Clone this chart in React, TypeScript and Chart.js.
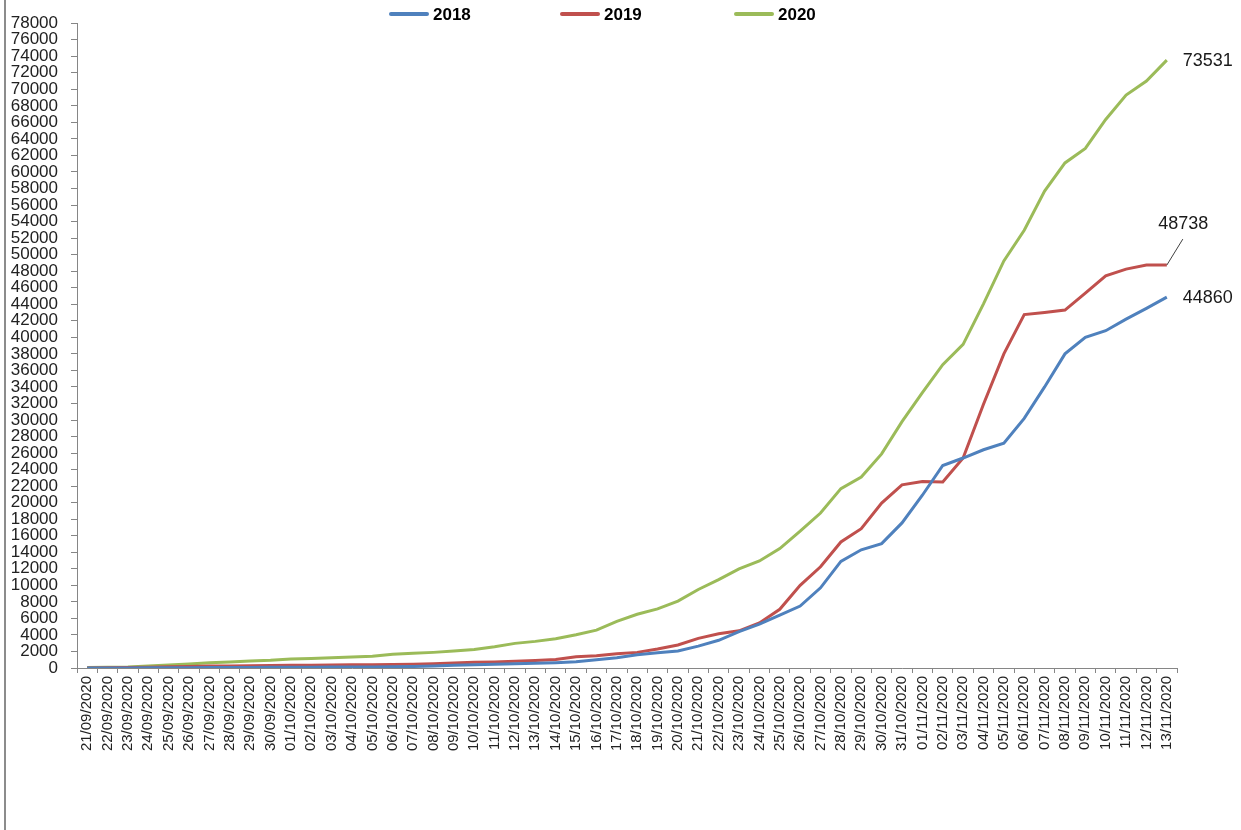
import React, { useEffect, useRef } from "react";
import { Chart, registerables } from "chart.js";

Chart.register(...registerables);

const dates = [
  "21/09/2020", "22/09/2020", "23/09/2020", "24/09/2020", "25/09/2020", "26/09/2020",
  "27/09/2020", "28/09/2020", "29/09/2020", "30/09/2020", "01/10/2020", "02/10/2020",
  "03/10/2020", "04/10/2020", "05/10/2020", "06/10/2020", "07/10/2020", "08/10/2020",
  "09/10/2020", "10/10/2020", "11/10/2020", "12/10/2020", "13/10/2020", "14/10/2020",
  "15/10/2020", "16/10/2020", "17/10/2020", "18/10/2020", "19/10/2020", "20/10/2020",
  "21/10/2020", "22/10/2020", "23/10/2020", "24/10/2020", "25/10/2020", "26/10/2020",
  "27/10/2020", "28/10/2020", "29/10/2020", "30/10/2020", "31/10/2020", "01/11/2020",
  "02/11/2020", "03/11/2020", "04/11/2020", "05/11/2020", "06/11/2020", "07/11/2020",
  "08/11/2020", "09/11/2020", "10/11/2020", "11/11/2020", "12/11/2020", "13/11/2020",
];

const series2018 = [
  0, 0, 10, 20, 30, 40, 50, 60, 70, 80,
  90, 100, 110, 120, 130, 150, 180, 250, 320, 400,
  460, 520, 580, 650, 770, 1000, 1250, 1600, 1850, 2050,
  2650, 3350, 4400, 5300, 6400, 7500, 9700, 12900, 14300, 15050,
  17550, 20900, 24500, 25400, 26400, 27200, 30200, 34000, 38000, 40000,
  40800, 42200, 43500, 44860,
];

const series2019 = [
  0, 20, 60, 100, 150, 190, 230, 250, 280, 300,
  320, 340, 360, 380, 400, 420, 440, 500, 600, 700,
  740, 820, 920, 1020, 1370, 1490, 1720, 1890, 2290, 2780,
  3580, 4150, 4500, 5450, 7100, 10000, 12250, 15250, 16850, 19950,
  22150, 22550, 22500, 25400, 31900, 38000, 42750, 43000, 43300, 45350,
  47450, 48250, 48738, 48738,
];

const series2020 = [
  60, 80, 130, 240, 360, 480, 640, 720, 850, 930,
  1080, 1150, 1250, 1320, 1420, 1650, 1770, 1890, 2050, 2250,
  2570, 2980, 3220, 3540, 4020, 4580, 5650, 6500, 7150, 8100,
  9500, 10700, 12000, 12950, 14450, 16550, 18750, 21700, 23100, 25900,
  29800, 33300, 36700, 39150, 44050, 49250, 52950, 57700, 61100, 62850,
  66350, 69300, 71000, 73531,
];

const seriesNames = ["2018", "2019", "2020"];
const seriesColors = ["#4F81BD", "#C0504D", "#9BBB59"];

const yMin = 0;
const yMax = 78000;
const yStep = 2000;

const FONT = "'Liberation Sans', Arial, sans-serif";

// legend item left edges (line start) in canvas pixels
const legendStarts = [389, 560, 734];

const legendPlugin = {
  id: "excelLegend",
  afterDraw(chart: any) {
    const ctx = chart.ctx;
    ctx.save();
    ctx.font = `bold 17px ${FONT}`;
    ctx.textBaseline = "middle";
    ctx.textAlign = "left";
    chart.data.datasets.forEach((ds: any, i: number) => {
      const x = legendStarts[i];
      ctx.strokeStyle = ds.borderColor;
      ctx.lineWidth = 4;
      ctx.lineCap = "round";
      ctx.beginPath();
      ctx.moveTo(x + 2, 14);
      ctx.lineTo(x + 38, 14);
      ctx.stroke();
      ctx.fillStyle = "#000";
      ctx.fillText(ds.label, x + 44, 15);
    });
    ctx.restore();
  },
};

const endLabelPlugin = {
  id: "endLabels",
  afterDatasetsDraw(chart: any) {
    const ctx = chart.ctx;
    ctx.save();
    ctx.font = `18px ${FONT}`;
    ctx.fillStyle = "#1a1a1a";
    ctx.textBaseline = "middle";
    chart.data.datasets.forEach((ds: any, i: number) => {
      const meta = chart.getDatasetMeta(i);
      const pt = meta.data[meta.data.length - 1];
      const value = ds.data[ds.data.length - 1];
      const text = String(value);
      if (i === 1) {
        ctx.strokeStyle = "#404040";
        ctx.lineWidth = 1;
        ctx.beginPath();
        ctx.moveTo(pt.x, pt.y);
        ctx.lineTo(pt.x + 16, pt.y - 26);
        ctx.stroke();
        ctx.textAlign = "center";
        ctx.fillText(text, pt.x + 16.5, pt.y - 41);
      } else {
        ctx.textAlign = "left";
        ctx.fillText(text, pt.x + 16, pt.y + 1);
      }
    });
    ctx.restore();
  },
};

export default function App() {
  const canvasRef = useRef<HTMLCanvasElement | null>(null);

  useEffect(() => {
    document.body.style.margin = "0";
    const canvas = canvasRef.current;
    if (!canvas) return;
    Chart.defaults.font.family = FONT;
    const seriesData = [series2018, series2019, series2020];
    const chart = new Chart(canvas, {
      type: "line",
      data: {
        labels: dates,
        datasets: seriesNames.map((name, i) => ({
          label: name,
          data: seriesData[i],
          borderColor: seriesColors[i],
          backgroundColor: seriesColors[i],
          borderWidth: 3,
          pointRadius: 0,
          tension: 0,
          fill: false,
        })),
      },
      options: {
        responsive: false,
        animation: false,
        devicePixelRatio: 1,
        layout: { padding: { top: 22, right: 64, left: 0, bottom: 0 } },
        plugins: {
          legend: { display: false },
          tooltip: { enabled: false },
        },
        scales: {
          x: {
            type: "category",
            offset: true,
            grid: {
              display: true,
              drawOnChartArea: false,
              drawTicks: true,
              tickLength: 5,
              offset: true,
              color: "#868686",
            },
            border: { display: true, color: "#868686", width: 1 },
            ticks: {
              autoSkip: false,
              maxRotation: 90,
              minRotation: 90,
              padding: 3,
              color: "#222",
              font: { family: FONT, size: 15 },
            },
            afterFit: (s: any) => {
              s.height = 162;
            },
          },
          y: {
            min: yMin,
            max: yMax,
            grid: {
              display: true,
              drawOnChartArea: false,
              drawTicks: true,
              tickLength: 6,
              color: "#868686",
            },
            border: { display: true, color: "#868686", width: 1 },
            ticks: {
              stepSize: yStep,
              autoSkip: false,
              padding: 13,
              color: "#222",
              font: { family: FONT, size: 17 },
              callback: (v: any) => String(v),
            },
            afterFit: (s: any) => {
              s.width = 77;
            },
          },
        },
      },
      plugins: [legendPlugin, endLabelPlugin],
    });
    return () => chart.destroy();
  }, []);

  return (
    <div style={{ position: "relative", width: 1241, height: 830, background: "#fff", overflow: "hidden" }}>
      <canvas ref={canvasRef} width={1241} height={830} style={{ display: "block" }} />
      <div style={{ position: "absolute", left: 4, top: 0, width: 2, height: 830, background: "#8c8c8c" }} />
    </div>
  );
}
